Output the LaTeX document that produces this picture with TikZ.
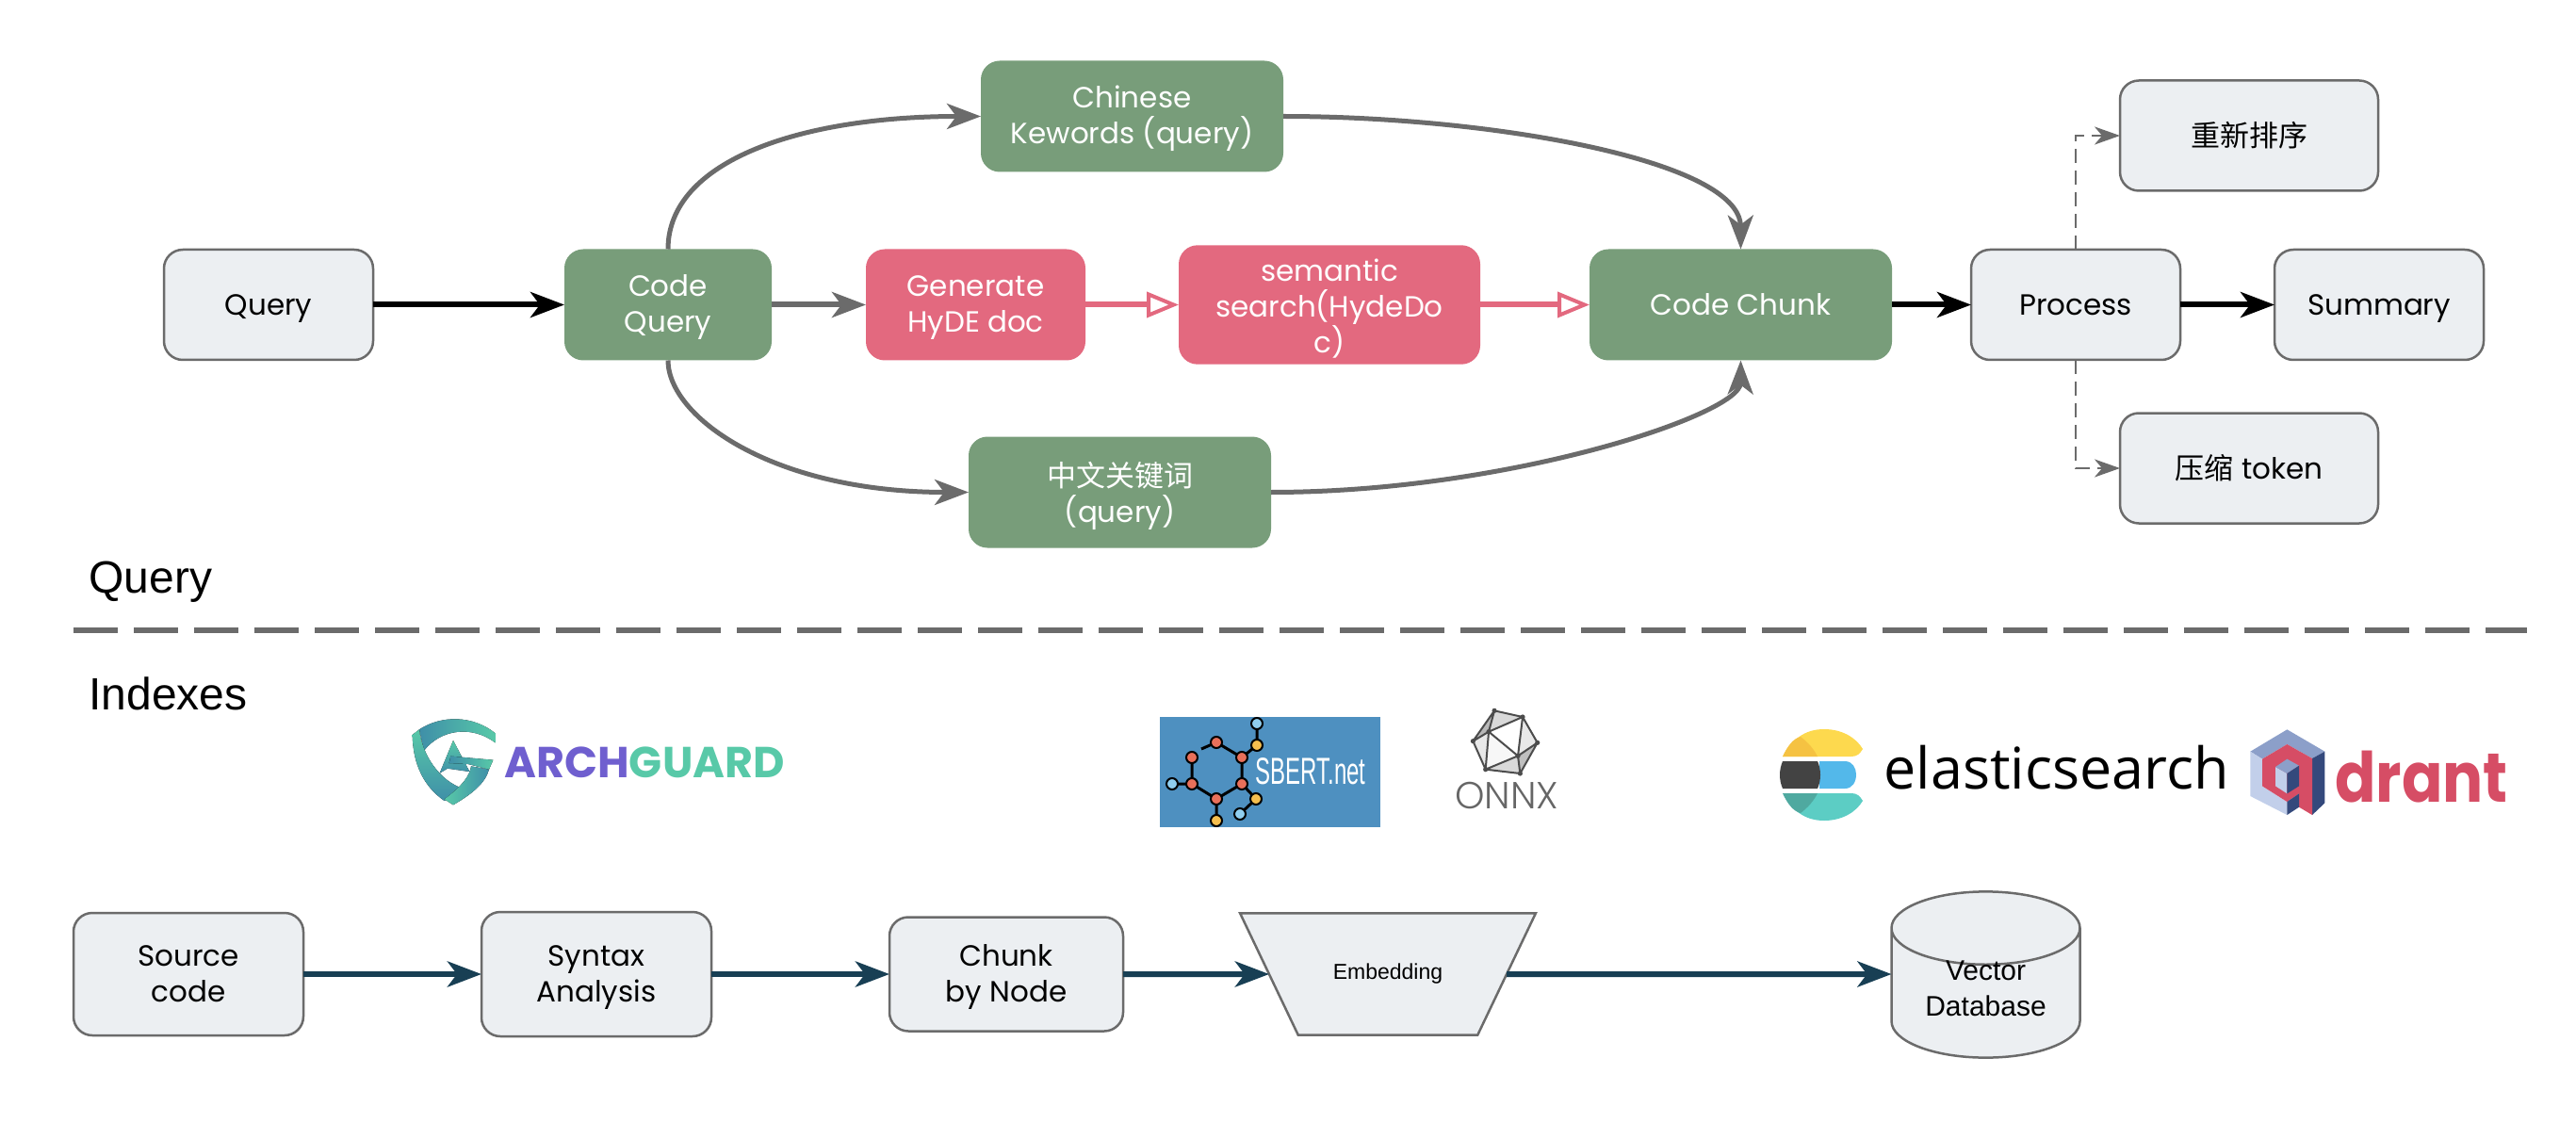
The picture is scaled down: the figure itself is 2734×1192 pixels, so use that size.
\documentclass[tikz,border=0pt]{standalone}
\usepackage{fontspec}
\setmainfont{Poppins}
\newfontfamily\thinfont{Poppins Light}
\newfontfamily\cjk{Noto Sans CJK SC}
\newfontfamily\plainfont{Liberation Sans}
\newfontfamily\logofont{Poppins}
\newfontfamily\esfont{Open Sans}
\usepackage{tikz}
\usetikzlibrary{shapes,positioning,arrows.meta}

\definecolor{boxgrey}{HTML}{ECEFF2}
\definecolor{linegrey}{HTML}{6B6B6B}
\definecolor{codegreen}{HTML}{789D7A}
\definecolor{hydepink}{HTML}{E3697F}
\definecolor{indexblue}{HTML}{183F54}
\definecolor{archpurple}{HTML}{6F5FCF}
\definecolor{archteal}{HTML}{58C9A8}
\definecolor{archdeep}{HTML}{3F8FA8}
\definecolor{sbertblue}{HTML}{4E90C0}
\definecolor{sbertred}{HTML}{E8705A}
\definecolor{sbertyellow}{HTML}{F5BE4E}
\definecolor{sbertcyan}{HTML}{90CFF0}
\definecolor{esyellow}{HTML}{FDD94E}
\definecolor{esorange}{HTML}{F5C242}
\definecolor{esblue}{HTML}{53B8EA}
\definecolor{esdark}{HTML}{434343}
\definecolor{esteal}{HTML}{5CCDC4}
\definecolor{esdeep}{HTML}{4FA9A0}
\definecolor{qdred}{HTML}{D64D65}
\definecolor{qdtop}{HTML}{8C9FC9}
\definecolor{qdlight}{HTML}{C2CFEA}
\definecolor{qddark}{HTML}{34497C}

\newcommand{\liftline}[1]{\raisebox{2.6pt}[\height][\depth]{\makebox[58pt]{#1}}}
\newcommand{\topgap}[1]{\rule{0pt}{#1}}

\begin{document}
\begin{tikzpicture}[x=0.5pt,y=-0.5pt,
		bodytext/.style={font=\fontsize{15.5}{19}\selectfont, align=center, inner sep=0pt, outer sep=0pt, execute at begin node={\rule{0pt}{17pt}}, execute at end node={\rule[-5.9pt]{0pt}{5.9pt}}},
		greybox/.style={bodytext, rectangle, rounded corners=10pt, draw=linegrey, line width=1.25pt, fill=boxgrey, text=black, minimum width=111pt, minimum height=58.5pt},
		greenbox/.style={bodytext, rectangle, rounded corners=10pt, fill=codegreen, text=white, minimum width=160.5pt, minimum height=59pt},
		pinkbox/.style={bodytext, rectangle, rounded corners=10pt, fill=hydepink, text=white, minimum width=160pt, minimum height=59pt},
		heading/.style={font=\plainfont\fontsize{24}{24}\selectfont, anchor=base west, inner sep=0pt},
		flow/.style={line width=3pt, ->, >={Stealth[length=18pt,width=13.5pt,inset=5pt,quick]}},
		greypath/.style={flow, draw=linegrey},
		curvepath/.style={greypath, line width=2.5pt},
		blackpath/.style={flow, draw=black},
		tealpath/.style={flow, draw=indexblue},
		pinkpath/.style={line width=3pt, draw=hydepink, ->, >={Triangle[fill=white,length=17pt,width=13.5pt,line width=2pt]}},
		dashpath/.style={draw=linegrey, line width=1.25pt, dash pattern=on 7.5pt off 4pt, ->, >={Stealth[length=13.5pt,width=9.5pt,inset=4pt]}}
		]
		\useasboundingbox (0,0) rectangle (2734,1192);

		% Nodes
		\node[greybox] (Query) at (285,323.5) {Query};
		\node[greenbox, minimum width=110pt] (CodeQuery) [right=101.5pt of Query] {\topgap{15.8pt}Code\\Query};
		\node[pinkbox, minimum width=116.5pt] (GenHyde) [right=50pt of CodeQuery] {\topgap{15.8pt}Generate\\HyDE doc};
		\node[pinkbox] (Semantic) [right=49.5pt of GenHyde] {\topgap{19.3pt}semantic\\search(HydeDo\\c)};
		\node[greenbox] (CodeChunk) [right=58pt of Semantic] {Code Chunk};
		\node[greybox] (Process) [right=42pt of CodeChunk] {Process};
		\node[greybox] (Summary) [right=50pt of Process] {Summary};
		\node[greenbox] (Chinese) at (1201.5,123.5) {\topgap{15.8pt}Chinese\\Kewords (query)};
		\node[greenbox] (Keywords) at (1188.5,522.5) {\topgap{18.5pt}{\cjk 中文关键词}\\(query)};
		\node[greybox, minimum width=137pt] (Rerank) at (2387,144) {\cjk 重新排序};
		\node[greybox, minimum width=137pt] (Compress) at (2387,497) {{\cjk 压缩} token};

		\node[greybox, minimum width=122pt, minimum height=65pt] (Source) at (200,1034) {\topgap{16.3pt}Source\\code};
		\node[greybox, minimum width=122pt, minimum height=66pt] (Syntax) [right=94.5pt of Source] {\topgap{16.3pt}Syntax\\Analysis};
		\node[greybox, minimum width=124pt, minimum height=60.5pt] (Chunk) [right=94.5pt of Syntax] {\topgap{16.3pt}Chunk\\by Node};
		\node[trapezium, shape border rotate=180, trapezium left angle=64.5, trapezium right angle=64.5, draw=linegrey, line width=1.25pt, fill=boxgrey, inner xsep=18.5pt, inner ysep=27pt, outer sep=0pt, font=\plainfont\fontsize{11.5}{13}\selectfont] (Embedding) at (1473,1034) {Embedding};
		\node[cylinder, anchor=shape center, shape border rotate=90, aspect=0.667, draw=linegrey, line width=1.25pt, fill=boxgrey, minimum width=100pt, minimum height=87.5pt, inner sep=0pt, outer sep=0pt, align=center, font=\plainfont\fontsize{15}{19}\selectfont] (Vector) at (2107.5,1034.5) {\liftline{Vector}\\\liftline{Database}};

		\node[heading] (QueryTitle) at (94,629) {Query};
		\node[heading] (IndexTitle) at (94,753) {Indexes};

		% Main Paths
		\draw[blackpath] (Query) -- (CodeQuery);
		\draw[greypath] (CodeQuery) -- (GenHyde);
		\draw[pinkpath] (GenHyde) -- (Semantic);
		\draw[pinkpath] (Semantic) -- (CodeChunk);
		\draw[blackpath] (CodeChunk) -- (Process);
		\draw[blackpath] (Process) -- (Summary);

		% Around the middle row
		\draw[curvepath] (CodeQuery.north) .. controls +(0,-94) and (850,123.5) .. (Chinese.west);
		\draw[curvepath] (Chinese.east) .. controls (1580,123.5) and (1847,170) .. (CodeChunk.north);
		\draw[curvepath] (CodeQuery.south) .. controls +(0,60) and (820,522.5) .. (Keywords.west);
		\draw[curvepath] (Keywords.east) .. controls (1600,522.5) and (1847,440) .. (CodeChunk.south);
		\draw[dashpath] (Process.north) |- (Rerank.west);
		\draw[dashpath] (Process.south) |- (Compress.west);

		% Indexes row
		\draw[tealpath] (Source) -- (Syntax);
		\draw[tealpath] (Syntax) -- (Chunk);
		\draw[tealpath] (Chunk) -- (Embedding);
		\draw[tealpath] (Embedding) -- (Embedding -| Vector.west);

		% Split
		\coordinate (SplitLeft) at (78,669);
		\coordinate (SplitRight) at (2682,669);
		\draw[linegrey, line width=3pt, dash pattern=on 23.3pt off 8.7pt] (SplitLeft) -- (SplitRight);

		% Logo: archguard
		\begin{scope}[shift={(425,755)},x=0.1667pt,y=-0.1667pt]
			\fill[left color=archdeep, right color=archteal] (60,58) .. controls (130,12) and (230,12) .. (302,70) -- (302,100) .. controls (230,45) and (130,55) .. (75,125) -- cycle;
			\fill[top color=archteal, bottom color=archdeep] (38,75) -- (60,58) .. controls (65,120) and (110,210) .. (190,243) -- (140,285) .. controls (75,240) and (40,170) .. (38,75) -- cycle;
			\fill[left color=archteal, right color=archdeep] (140,280) -- (168,298) .. controls (225,265) and (270,230) .. (282,185) -- (225,175) .. controls (220,205) and (200,235) .. cycle;
			\fill[top color=archteal, bottom color=archdeep] (168,93) -- (220,192) -- (150,182) -- (125,197) -- cycle;
			\fill[left color=archdeep, right color=archteal] (160,143) -- (295,155) -- (282,185) -- (215,168) -- (155,165) -- cycle;
		\end{scope}
		\node[font=\logofont\bfseries\fontsize{23}{23}\selectfont, anchor=base west, inner sep=0pt] (ArchGuard) at (535,825) {\textcolor{archpurple}{ARCH}\textcolor{archteal}{GUARD}};

		% Logo: sbert
		\fill[sbertblue] (1231,761) rectangle (1465,878);
		\draw[black, line width=1.5pt] (1291,848) -- (1265,832) -- (1265,804) (1275,795) -- (1291,788) -- (1318,804) -- (1318,832) -- (1291,848) -- (1291,871)
			(1265,832) -- (1244,832) (1318,804) -- (1334,791) -- (1334,768) (1318,832) -- (1333,848) -- (1316,864);
		\foreach \px/\py/\pc in {1291/788/sbertred, 1318/804/sbertred, 1318/832/sbertred, 1291/848/sbertred, 1265/832/sbertred, 1265/804/sbertred, 1334/791/sbertyellow, 1333/848/sbertyellow, 1291/871/sbertyellow, 1334/768/sbertcyan, 1244/832/sbertcyan, 1316/864/sbertcyan}
			\draw[black, fill=\pc, line width=1pt] (\px,\py) circle [radius=3pt];
		\node[font=\plainfont\fontsize{20}{20}\selectfont, text=white, anchor=base west, inner sep=0pt] (SbertText) at (1332,832) {\scalebox{.6}[1]{SBERT.net}};

		% Logo: onnx
		\begin{scope}[shift={(1530,745)},x=0.1667pt,y=-0.1667pt]
			\coordinate (oa) at (168,28); \coordinate (ob) at (258,48); \coordinate (oc) at (305,130); \coordinate (od) at (250,228);
			\coordinate (oe) at (140,215); \coordinate (of) at (100,125); \coordinate (og) at (150,95); \coordinate (oh) at (243,172);
			\fill[black!15] (oa) -- (ob) -- (og) -- cycle;
			\fill[black!28] (oa) -- (of) -- (og) -- cycle;
			\fill[black!9] (of) -- (oe) -- (og) -- cycle;
			\fill[black!3] (og) -- (oe) -- (oh) -- cycle;
			\fill[white] (og) -- (ob) -- (oh) -- cycle;
			\fill[black!9] (ob) -- (oc) -- (oh) -- cycle;
			\fill[black!25] (oh) -- (oc) -- (od) -- cycle;
			\fill[black!15] (oe) -- (oh) -- (od) -- cycle;
			\draw[black!70, line width=1pt, line join=round] (oa) -- (ob) -- (oc) -- (od) -- (oe) -- (of) -- cycle (oa) -- (og) -- (of) (og) -- (oe) -- (oh) -- (og) -- (ob) -- (oh) -- (oc) (oh) -- (od);
			\foreach \v in {oa,ob,oc,od,oe,of,og,oh}
				\fill[black!70] (\v) circle [radius=1.3pt];
		\end{scope}
		\node[font=\thinfont\fontsize{20}{20}\selectfont, text=black!60, anchor=base west, inner sep=0pt] (OnnxText) at (1544,858) {ONNX};

		% Logo: elasticsearch
		\fill[esyellow] (1892,803) .. controls (1902,785) and (1915,774) .. (1936,774) .. controls (1955,774) and (1970,783) .. (1977,795) .. controls (1974,800) and (1971,803) .. (1965,803) -- cycle;
		\fill[esorange] (1892,803) .. controls (1897,792) and (1903,784) .. (1911,782) .. controls (1919,788) and (1925,795) .. (1929,803) -- cycle;
		\fill[esblue] (1931,808) -- (1958,808) .. controls (1966,808) and (1970,815) .. (1970,822) .. controls (1970,830) and (1966,837) .. (1958,837) -- (1931,837) -- cycle;
		\fill[esdark] (1892,808) -- (1929,808) .. controls (1933,817) and (1933,828) .. (1929,837) -- (1892,837) .. controls (1888,828) and (1888,817) .. (1892,808) -- cycle;
		\fill[esteal] (1892,842) .. controls (1902,860) and (1915,871) .. (1936,871) .. controls (1955,871) and (1970,862) .. (1977,850) .. controls (1974,845) and (1971,842) .. (1965,842) -- cycle;
		\fill[esdeep] (1892,842) .. controls (1897,853) and (1903,861) .. (1911,863) .. controls (1919,857) and (1925,850) .. (1929,842) -- cycle;
		\node[font=\esfont\fontsize{30.5}{30.5}\selectfont, anchor=base west, inner sep=0pt] (ElasticText) at (1999,837) {elasticsearch};

		% Logo: qdrant
		\begin{scope}[shift={(2380,765)},x=0.1667pt,y=-0.1667pt]
			\fill[qdtop] (142,28) -- (262,98) -- (222,120) -- (142,75) -- (63,122) -- (25,98) -- cycle;
			\fill[qdlight] (25,98) -- (63,122) -- (63,208) -- (142,258) -- (142,300) -- (25,240) -- cycle;
			\fill[qddark] (262,98) -- (262,262) -- (222,300) -- (222,120) -- cycle;
			\fill[qdred] (142,75) -- (222,120) -- (222,300) -- (180,275) -- (180,232) -- (142,258) -- (63,208) -- (63,122) -- cycle;
			\fill[qddark] (142,258) -- (180,232) -- (180,275) -- (142,300) -- cycle;
			\fill[qdlight] (105,147) -- (142,168) -- (142,232) -- (105,208) -- cycle;
			\fill[qdtop] (142,122) -- (180,143) -- (142,168) -- (105,147) -- cycle;
			\fill[qddark] (142,168) -- (180,143) -- (180,208) -- (142,232) -- cycle;
		\end{scope}
		\node[font=\logofont\bfseries\fontsize{32}{32}\selectfont, text=qdred, anchor=base west, inner sep=0pt] (QdrantText) at (2478,851) {\scalebox{1}[1.15]{drant}};
	\end{tikzpicture}
\end{document}
